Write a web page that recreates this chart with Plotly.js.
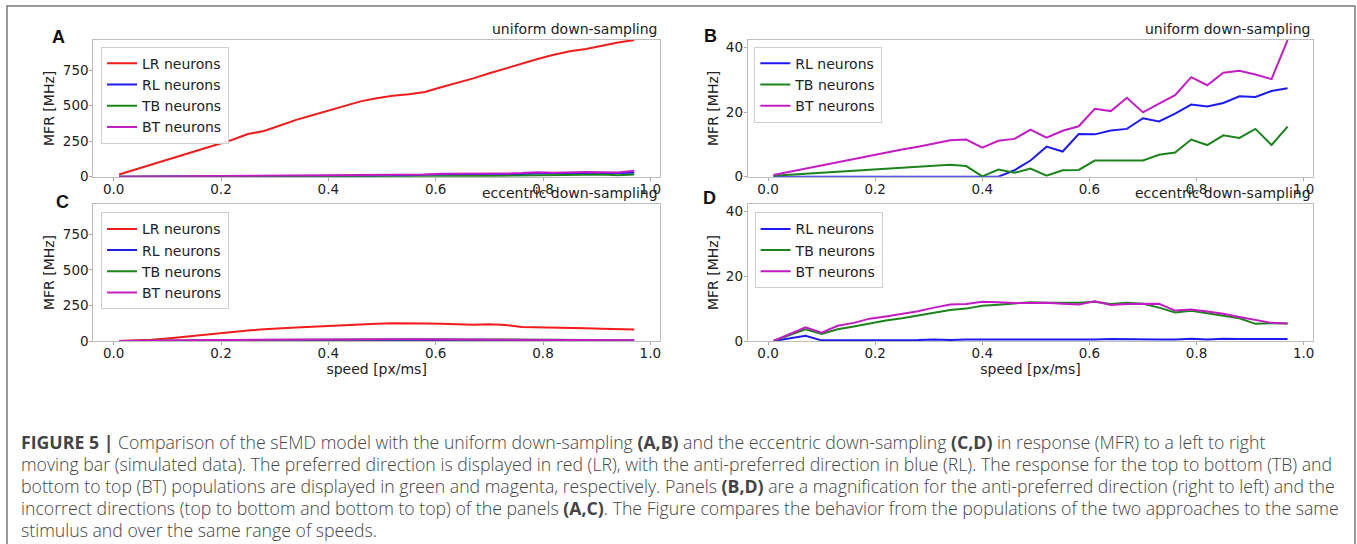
<!DOCTYPE html>
<html><head><meta charset="utf-8">
<script src="https://cdn.plot.ly/plotly-3.0.1.min.js"></script>
<style>html,body{margin:0;padding:0;background:#fff;} #chart{width:1357px;height:544px;}</style>
</head><body><div id="chart"></div>
<script>
// ---- data ----
const speed = [0.01,0.04,0.07,0.10,0.13,0.16,0.19,0.22,0.25,0.28,0.31,0.34,0.37,0.40,0.43,0.46,0.49,0.52,0.55,0.58,0.61,0.64,0.67,0.70,0.73,0.76,0.79,0.82,0.85,0.88,0.91,0.94,0.97];

// uniform down-sampling (panels A, B)
const uniLR = [15,50,85,118,152,186,222,258,300,322,360,400,432,465,500,530,552,570,580,596,630,660,692,728,762,795,828,858,883,898,922,945,962];
const uniRL = [0,0,0,0,0,0,0,0,0,0,0,0,0,0,0,2.0,5.0,9.3,7.8,13.2,13.1,14.3,14.8,18.1,17.1,19.5,22.3,21.7,22.8,24.9,24.7,26.5,27.4];
const uniTB = [0.3,0.6,0.9,1.2,1.5,1.8,2.1,2.4,2.8,3.1,3.5,3.7,3.3,0.1,2.2,1.2,2.5,0.3,2.0,2.1,5.0,5.0,4.8,5.0,6.8,7.5,11.5,9.8,12.8,12.0,14.8,9.8,15.5];
const uniBT = [0.5,1.5,2.6,3.5,4.5,5.5,6.5,7.5,8.4,9.3,10.3,11.3,11.5,9.0,11.1,11.7,14.6,12.1,14.2,15.6,21.0,20.3,24.4,19.9,22.6,25.2,30.8,28.3,32.2,32.8,31.6,30.2,42.3];

// eccentric down-sampling (panels C, D)
const eccLR = [0,2,8,18,30,42,54,64,73,82,90,95,100,106,110,116,121,124,121,123,121,116,114,118,112,98,97,95,92,89,86,83,80];
const eccRL = [0,0.8,1.6,0.2,0.2,0.2,0.3,0.3,0.4,0.3,0.5,0.3,0.5,0.5,0.4,0.4,0.3,0.3,0.3,0.4,0.5,0.6,0.5,0.4,0.5,0.5,0.7,0.5,0.7,0.6,0.6,0.6,0.6];
const eccTB = [0,1.8,3.6,2.2,3.6,4.5,5.5,6.3,7.0,7.8,8.8,9.6,10.0,10.9,11.2,11.5,12.0,11.8,11.8,11.8,12.1,11.4,11.8,11.5,10.3,8.8,9.3,8.5,7.9,7.0,5.3,5.5,5.4];
const eccBT = [0,2.0,4.2,2.6,4.7,5.6,6.9,7.6,8.4,9.2,10.3,11.3,11.4,12.1,12.0,11.7,11.7,11.8,11.5,11.3,12.3,11.1,11.4,11.4,11.5,9.4,9.7,9.1,8.4,7.4,6.4,5.6,5.4];

const seriesNames = ['LR neurons','RL neurons','TB neurons','BT neurons'];
const xTickVals = [0,0.2,0.4,0.6,0.8,1.0];
const xTickLabels = ['0.0','0.2','0.4','0.6','0.8','1.0'];
const yTicksFull = [0,250,500,750];
const yTicksZoom = [0,20,40];
const panelLetters = ['A','B','C','D'];
const panelSubtitles = ['uniform down-sampling','uniform down-sampling','eccentric down-sampling','eccentric down-sampling'];
const captionLines = [
 '<b>FIGURE 5 |</b> Comparison of the sEMD model with the uniform down-sampling <b>(A,B)</b> and the eccentric down-sampling <b>(C,D)</b> in response (MFR) to a left to right',
 'moving bar (simulated data). The preferred direction is displayed in red (LR), with the anti-preferred direction in blue (RL). The response for the top to bottom (TB) and',
 'bottom to top (BT) populations are displayed in green and magenta, respectively. Panels <b>(B,D)</b> are a magnification for the anti-preferred direction (right to left) and the',
 'incorrect directions (top to bottom and bottom to top) of the panels <b>(A,C)</b>. The Figure compares the behavior from the populations of the two approaches to the same',
 'stimulus and over the same range of speeds.'
];

// ---- style ----
const W = 1357, H = 544;
const colors = {LR:'#f21c1c', RL:'#1c1cf2', TB:'#1c841c', BT:'#c41cc4'};
const FONT = 'DejaVu Sans';
const px = v => v / W;
const py = v => 1 - v / H;

function tr(y, name, color, xa, ya, lg){
  return {x: speed, y: y, name: name, type:'scatter', mode:'lines',
          line:{color:color, width:2}, xaxis:xa, yaxis:ya, legend:lg, hoverinfo:'skip'};
}
const data = [
  tr(uniLR, seriesNames[0], colors.LR, 'x', 'y', 'legend'),
  tr(uniRL, seriesNames[1], colors.RL, 'x', 'y', 'legend'),
  tr(uniTB, seriesNames[2], colors.TB, 'x', 'y', 'legend'),
  tr(uniBT, seriesNames[3], colors.BT, 'x', 'y', 'legend'),
  tr(uniRL, seriesNames[1], colors.RL, 'x2', 'y2', 'legend2'),
  tr(uniTB, seriesNames[2], colors.TB, 'x2', 'y2', 'legend2'),
  tr(uniBT, seriesNames[3], colors.BT, 'x2', 'y2', 'legend2'),
  tr(eccLR, seriesNames[0], colors.LR, 'x3', 'y3', 'legend3'),
  tr(eccRL, seriesNames[1], colors.RL, 'x3', 'y3', 'legend3'),
  tr(eccTB, seriesNames[2], colors.TB, 'x3', 'y3', 'legend3'),
  tr(eccBT, seriesNames[3], colors.BT, 'x3', 'y3', 'legend3'),
  tr(eccRL, seriesNames[1], colors.RL, 'x4', 'y4', 'legend4'),
  tr(eccTB, seriesNames[2], colors.TB, 'x4', 'y4', 'legend4'),
  tr(eccBT, seriesNames[3], colors.BT, 'x4', 'y4', 'legend4')
];

const colL = [px(93.3), px(660)], colR = [px(747.7), px(1313.3)];
const rowT = [py(176.7), py(40)], rowB = [py(341), py(204)];

function xax(domain, anchor, withTitle){
  return {domain:domain, anchor:anchor, range:[-0.038,1.018], tickvals:xTickVals, ticktext:xTickLabels,
    ticks:'outside', ticklen:3, tickcolor:'#aaa', tickwidth:1, ticklabelstandoff:-3, showline:true, mirror:true,
    linecolor:'#bdbdbd', linewidth:1, showgrid:false, zeroline:false, automargin:false,
    tickfont:{family:FONT, size:13.5, color:'#222'},
    title: withTitle ? {text:'speed [px/ms]', font:{family:FONT, size:14, color:'#222'}, standoff:0} : {text:''}};
}
function yax(domain, anchor, range, ticks, standoff){
  return {domain:domain, anchor:anchor, range:range, tickvals:ticks,
    ticks:'outside', ticklen:3, tickcolor:'#aaa', tickwidth:1, ticklabelstandoff:-2, showline:true, mirror:true,
    linecolor:'#bdbdbd', linewidth:1, showgrid:false, zeroline:false, automargin:false,
    tickfont:{family:FONT, size:13.5, color:'#222'},
    title:{text:'MFR [MHz]', font:{family:FONT, size:14, color:'#222'}, standoff:standoff}};
}
function leg(x, y){
  return {x:px(x), y:py(y), xanchor:'left', yanchor:'top', bgcolor:'rgba(255,255,255,0.9)',
    bordercolor:'#cfcfcf', borderwidth:1, font:{family:FONT, size:14, color:'#222'}, traceorder:'normal'};
}

const annotations = [];
const letterPos = [[58,37],[710,36],[62,202],[709,198]];
letterPos.forEach((p,i)=>annotations.push({xref:'paper', yref:'paper', x:px(p[0]), y:py(p[1]),
  xanchor:'center', yanchor:'middle', showarrow:false, text:'<b>'+panelLetters[i]+'</b>',
  font:{family:'Liberation Sans', size:18, color:'#111'}}));
const subPos = [[660,40],[1313.3,40],[660,204],[1313.3,204]];
subPos.forEach((p,i)=>annotations.push({xref:'paper', yref:'paper', x:px(p[0]), y:py(p[1]-1),
  xanchor:'right', yanchor:'bottom', showarrow:false, text:panelSubtitles[i],
  font:{family:FONT, size:14, color:'#222'}}));
const capY = [442, 464, 486, 508, 530];
captionLines.forEach((t,i)=>annotations.push({xref:'paper', yref:'paper', x:px(19), y:py(capY[i]),
  xanchor:'left', yanchor:'middle', showarrow:false, text:t, align:'left',
  font:{family:'Open Sans', size:17.7, color:'#444', weight:300}}));

const layout = {
  width:W, height:H, margin:{l:0,r:0,t:0,b:0}, paper_bgcolor:'#fff', plot_bgcolor:'#fff',
  showlegend:true,
  xaxis: xax(colL,'y',false), yaxis: yax(rowT,'x',[0,962],yTicksFull,4),
  xaxis2: xax(colR,'y2',false), yaxis2: yax(rowT,'x2',[0,42.3],yTicksZoom,3),
  xaxis3: xax(colL,'y3',true), yaxis3: yax(rowB,'x3',[0,962],yTicksFull,4),
  xaxis4: xax(colR,'y4',true), yaxis4: yax(rowB,'x4',[0,42.3],yTicksZoom,3),
  legend: leg(101,46.7), legend2: leg(754.3,46.7), legend3: leg(101,212.3), legend4: leg(754.6,212.3),
  annotations: annotations,
  shapes:[{type:'rect', xref:'paper', yref:'paper', x0:px(7), x1:px(1355), y0:-0.05, y1:py(6),
    line:{color:'#7a7a7a', width:1.5}, fillcolor:'rgba(0,0,0,0)', layer:'below'}]
};

Plotly.newPlot('chart', data, layout, {staticPlot:true, displayModeBar:false});
</script>
</body></html>
